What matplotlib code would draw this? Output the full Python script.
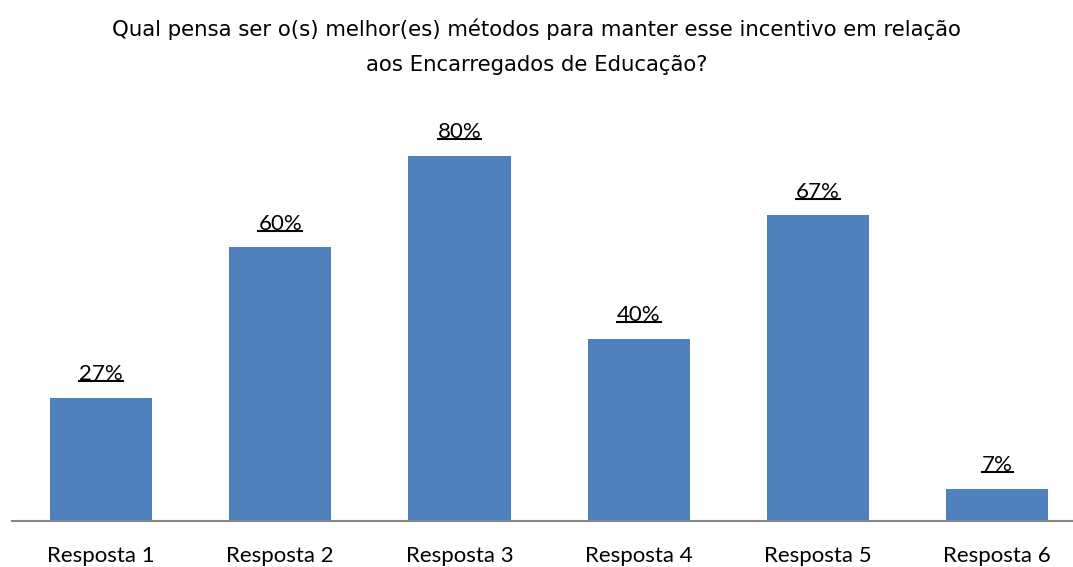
import matplotlib
matplotlib.use("Agg")
import matplotlib.pyplot as plt
from matplotlib.lines import Line2D

categories = ["Resposta 1", "Resposta 2", "Resposta 3", "Resposta 4", "Resposta 5", "Resposta 6"]
values = [27, 60, 80, 40, 67, 7]
labels = ["27%", "60%", "80%", "40%", "67%", "7%"]
title = "Qual pensa ser o(s) melhor(es) métodos para manter esse incentivo em relação\naos Encarregados de Educação?"

W, H = 1073, 567
fig = plt.figure(figsize=(W / 100, H / 100), dpi=100)

# axes: baseline at y=521, 1 % = 4.56 px, category pitch 179.2 px
pitch = 179.2
left = 11.5
base = 521
ymax = 100
ax = fig.add_axes([left / W, (H - base) / H, (W - left) / W, ymax * 4.56 / H])
x = range(len(values))
ax.bar(x, values, width=0.57, color="#4F81BD", zorder=2)
ax.set_xlim(-0.5, -0.5 + (W - left) / pitch)
ax.set_ylim(0, ymax)
for s in ["top", "right", "left"]:
    ax.spines[s].set_visible(False)
ax.spines["bottom"].set_color("#868686")
ax.spines["bottom"].set_linewidth(1.5)
ax.set_yticks([])
ax.set_xticks(list(x))
ax.set_xticklabels(categories, fontsize=16, family="Lato")
ax.tick_params(axis="x", length=0, pad=18)

texts = []
for xi, v, lab in zip(x, values, labels):
    t = ax.annotate(lab, (xi, v), xytext=(0, 10), textcoords="offset points",
                    ha="center", va="bottom", fontsize=16, family="Lato")
    texts.append(t)

fig.text(0.5, 1 - 47 / H, title, ha="center", va="center", fontsize=15.3,
         family="DejaVu Sans", linespacing=1.95)

# underline the value labels
fig.canvas.draw()
r = fig.canvas.get_renderer()
for t in texts:
    bb = t.get_window_extent(r)
    yb = bb.y0 + 3
    fig.add_artist(Line2D([bb.x0 / W, bb.x1 / W], [yb / H, yb / H],
                          color="black", lw=1.5))

fig.savefig("out.png", dpi=100)
